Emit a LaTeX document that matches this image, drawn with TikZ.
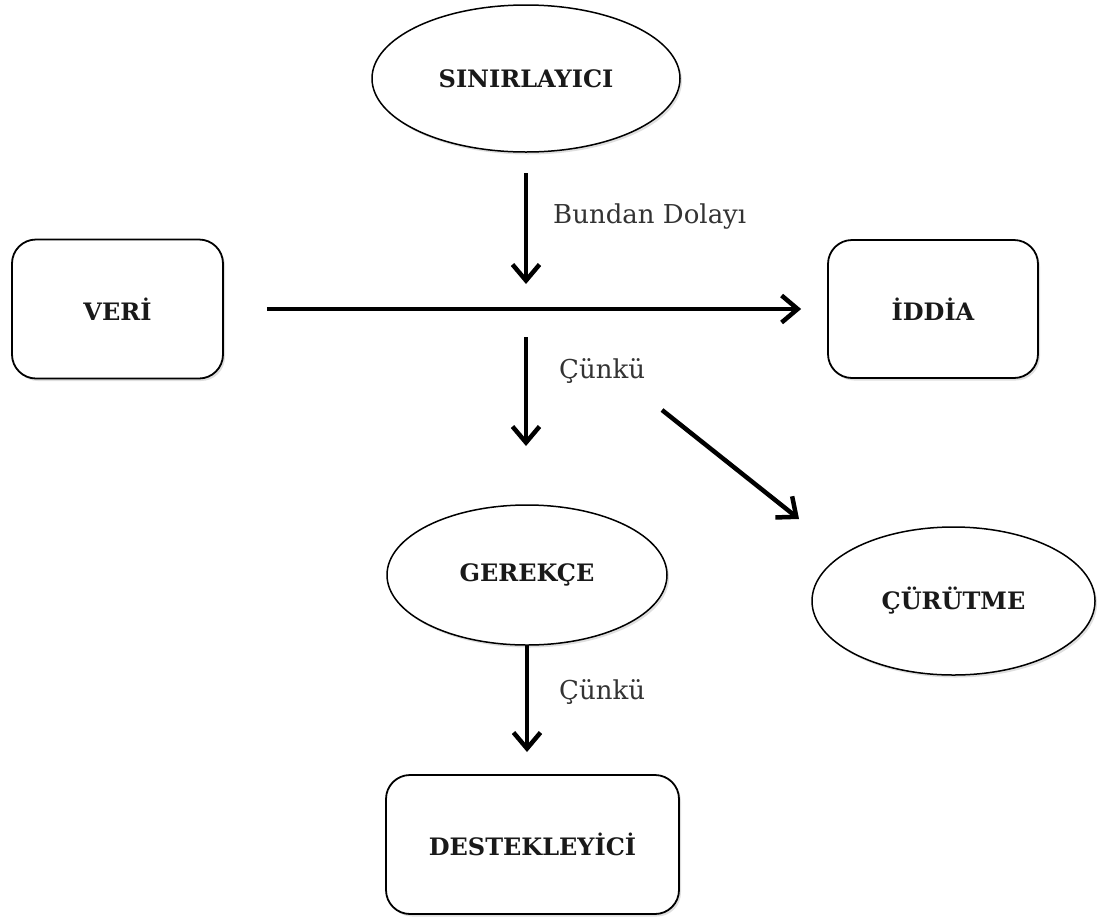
\documentclass[tikz,border=0pt]{standalone}
\usepackage{fontspec}
\setmainfont{DejaVu Serif}
\usetikzlibrary{arrows.meta,shapes.geometric,shadows}
\begin{document}
\begin{tikzpicture}[x=1pt,y=-1pt,
  shadowed/.style={drop shadow={opacity=0.25,shadow xshift=2pt,shadow yshift=-2.5pt}},
  oval/.style={ellipse,draw,line width=1.5pt,fill=white,inner sep=0pt,shadowed,
    font=\fontsize{24}{28}\selectfont\bfseries,text=black!90},
  box/.style={rectangle,rounded corners=24pt,draw,line width=1.8pt,fill=white,inner sep=0pt,shadowed,
    font=\fontsize{24}{28}\selectfont\bfseries,text=black!90},
  arr/.style={line width=4.5pt,-{Straight Barb[length=16pt,width=27pt,line width=4.5pt]}},
  lbl/.style={anchor=base west,inner sep=0pt,font=\fontsize{26}{30}\selectfont,text=black!80}]
\useasboundingbox (0,0) rectangle (1097,919);
% nodes
\node[oval,minimum width=308pt,minimum height=147pt] (sin) at (526,78.5) {SINIRLAYICI};
\node[box,minimum width=211pt,minimum height=139pt] (veri) at (117.5,309) {VERİ};
\node[box,minimum width=210pt,minimum height=138pt] (iddia) at (933,309) {İDDİA};
\node[oval,minimum width=280pt,minimum height=140pt] (ger) at (527,575) {GEREKÇE};
\node[oval,minimum width=283pt,minimum height=148pt] (cur) at (953.5,601) {ÇÜRÜTME};
\node[box,minimum width=293pt,minimum height=139pt] (dest) at (532.5,844.5) {DESTEKLEYİCİ};
% free ends
\coordinate (a1s) at (526,173);
\coordinate (a1e) at (526,284);
\coordinate (a2s) at (526,337);
\coordinate (a2e) at (526,446);
\coordinate (d1s) at (662,410);
\coordinate (d1e) at (799,519);
\coordinate (a3e) at (527,752);
% connectors
\draw[arr] (a1s) -- (a1e);
\draw[arr,shorten <=43pt,shorten >=26pt] (veri) -- (iddia);
\draw[arr] (a2s) -- (a2e);
\draw[arr] (d1s) -- (d1e);
\draw[arr] (ger.south) -- (a3e);
% labels
\node[lbl] (lb1) at (553,223) {Bundan Dolayı};
\node[lbl] (lb2) at (559,378) {Çünkü};
\node[lbl] (lb3) at (559,699) {Çünkü};
\end{tikzpicture}
\end{document}
